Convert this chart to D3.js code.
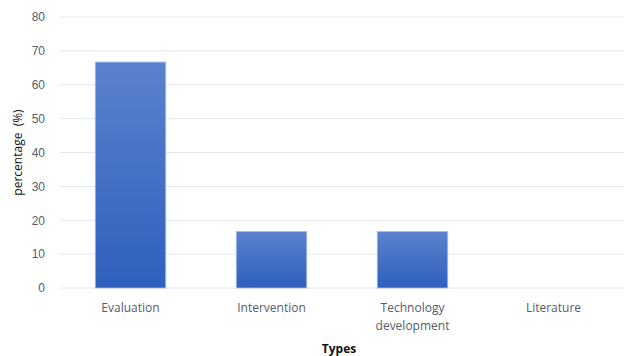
<!DOCTYPE html>
<html>
<head>
<meta charset="utf-8">
<script src="https://cdn.jsdelivr.net/npm/d3@7"></script>
<style>
  html, body { margin: 0; padding: 0; background: #fff; }
  svg { display: block; font-family: "Open Sans", "Liberation Sans", sans-serif; }
</style>
</head>
<body>
<svg id="chart" width="633" height="356"></svg>
<script>
const categories = ["Evaluation", "Intervention", "Technology development", "Literature"];
const tickLabels = [["Evaluation"], ["Intervention"], ["Technology", "development"], ["Literature"]];
const percentages = [66.7, 16.7, 16.7, 0];
const yTicks = [0, 10, 20, 30, 40, 50, 60, 70, 80];

const svg = d3.select("#chart");
const margin = { top: 17, right: 9, bottom: 68, left: 60 };
const width = 633 - margin.left - margin.right;
const height = 356 - margin.top - margin.bottom;

const labelColor = "#555d6c";

const defs = svg.append("defs");
const grad = defs.append("linearGradient")
  .attr("id", "barFill").attr("x1", 0).attr("y1", 0).attr("x2", 0).attr("y2", 1);
grad.append("stop").attr("offset", "0%").attr("stop-color", "#5b82cd");
grad.append("stop").attr("offset", "100%").attr("stop-color", "#2f60be");

const g = svg.append("g").attr("transform", `translate(${margin.left},${margin.top})`);

const x = d3.scaleBand().domain(categories).range([0, width]).paddingInner(0.5).paddingOuter(0.25);
const y = d3.scaleLinear().domain([0, 80]).range([height, 0]);

// horizontal gridlines
g.append("g").selectAll("line").data(yTicks).join("line")
  .attr("x1", 0).attr("x2", width)
  .attr("y1", d => y(d)).attr("y2", d => y(d))
  .attr("stroke", "#e3e6ea").attr("stroke-width", 1);

// y axis labels
const yAxis = d3.axisLeft(y).tickValues(yTicks).tickSize(0).tickPadding(15);
g.append("g").call(yAxis)
  .call(s => s.select(".domain").remove())
  .selectAll("text")
  .attr("fill", labelColor).attr("font-size", 12);

// bars
g.append("g").selectAll("rect").data(percentages).join("rect")
  .attr("x", (d, i) => x(categories[i]))
  .attr("y", d => y(d))
  .attr("width", x.bandwidth())
  .attr("height", d => y(0) - y(d))
  .attr("fill", "url(#barFill)")
  .attr("stroke", d => d > 0 ? "#a9bde6" : "none")
  .attr("stroke-width", 0.8);

// x axis labels
const xl = g.append("g").selectAll("text").data(categories).join("text")
  .attr("x", d => x(d) + x.bandwidth() / 2)
  .attr("y", height + 24)
  .attr("text-anchor", "middle")
  .attr("fill", labelColor).attr("font-size", 12);
xl.each(function (d, i) {
  const t = d3.select(this);
  tickLabels[i].forEach((line, j) => {
    t.append("tspan").attr("x", x(d) + x.bandwidth() / 2).attr("dy", j === 0 ? 0 : 18).text(line);
  });
});

// axis titles
svg.append("text")
  .attr("x", margin.left + width / 2 - 3).attr("y", 353)
  .attr("text-anchor", "middle").attr("font-size", 12).attr("font-weight", "bold")
  .attr("fill", "#111").text("Types");

svg.append("text")
  .attr("transform", `translate(22,${margin.top + height / 2}) rotate(-90)`)
  .attr("text-anchor", "middle").attr("font-size", 12)
  .style("white-space", "pre")
  .attr("fill", "#111").text("percentage  (%)");
</script>
</body>
</html>
